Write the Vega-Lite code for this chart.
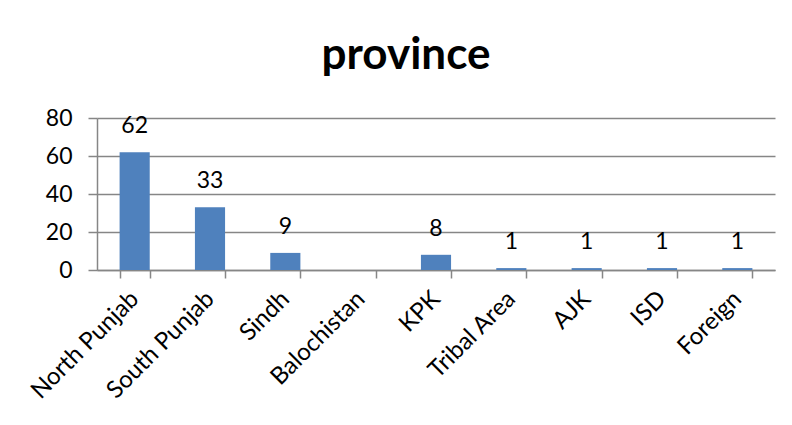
{
  "$schema": "https://vega.github.io/schema/vega-lite/v6.json",
  "width": 678,
  "height": 152,
  "autosize": "none",
  "padding": {"left": 97, "top": 118, "right": 17, "bottom": 155},
  "background": "white",
  "title": {
    "text": "province",
    "font": "Lato",
    "fontSize": 44,
    "fontWeight": "bold",
    "color": "black",
    "anchor": "middle",
    "dx": -30,
    "dy": 52,
    "offset": 46,
    "baseline": "alphabetic",
    "frame": "group"
  },
  "data": {
    "values": [
      {"province": "North Punjab", "count": 62},
      {"province": "South Punjab", "count": 33},
      {"province": "Sindh", "count": 9},
      {"province": "Balochistan", "count": null},
      {"province": "KPK", "count": 8},
      {"province": "Tribal Area", "count": 1},
      {"province": "AJK", "count": 1},
      {"province": "ISD", "count": 1},
      {"province": "Foreign", "count": 1}
    ]
  },
  "encoding": {
    "x": {
      "field": "province",
      "type": "nominal",
      "sort": null,
      "title": null,
      "scale": {
        "domain": ["North Punjab", "South Punjab", "Sindh", "Balochistan", "KPK", "Tribal Area", "AJK", "ISD", "Foreign"],
        "paddingInner": 0.6,
        "paddingOuter": 0.3
      },
      "axis": {
        "tickBand": "extent",
        "tickSize": 8,
        "tickColor": "#868686",
        "domainColor": "#868686",
        "domainWidth": 1.5,
        "tickWidth": 1.5,
        "grid": false,
        "labelAngle": -45,
        "labelAlign": "right",
        "labelBaseline": "middle",
        "labelPadding": 17,
        "labelOverlap": false,
        "labelFont": "Lato",
        "labelFontSize": 24,
        "labelColor": "black"
      }
    },
    "y": {
      "field": "count",
      "type": "quantitative",
      "title": null,
      "scale": {"domain": [0, 80], "nice": false},
      "axis": {
        "values": [0, 20, 40, 60, 80],
        "tickCount": 5,
        "labelOverlap": false,
        "grid": true,
        "gridColor": "#868686",
        "gridWidth": 1.5,
        "tickSize": 9,
        "tickColor": "#868686",
        "tickWidth": 1.5,
        "domainColor": "#868686",
        "domainWidth": 1.5,
        "labelPadding": 16,
        "labelFont": "Lato",
        "labelFontSize": 23,
        "labelColor": "black"
      }
    }
  },
  "layer": [
    {
      "mark": {"type": "bar", "color": "#4F81BD"}
    },
    {
      "transform": [{"filter": "datum.count != null"}],
      "mark": {"type": "text", "font": "Lato", "fontSize": 23, "baseline": "alphabetic", "dy": -19, "color": "black"},
      "encoding": {
        "text": {"field": "count", "type": "quantitative"}
      }
    }
  ],
  "config": {"view": {"stroke": null}}
}
